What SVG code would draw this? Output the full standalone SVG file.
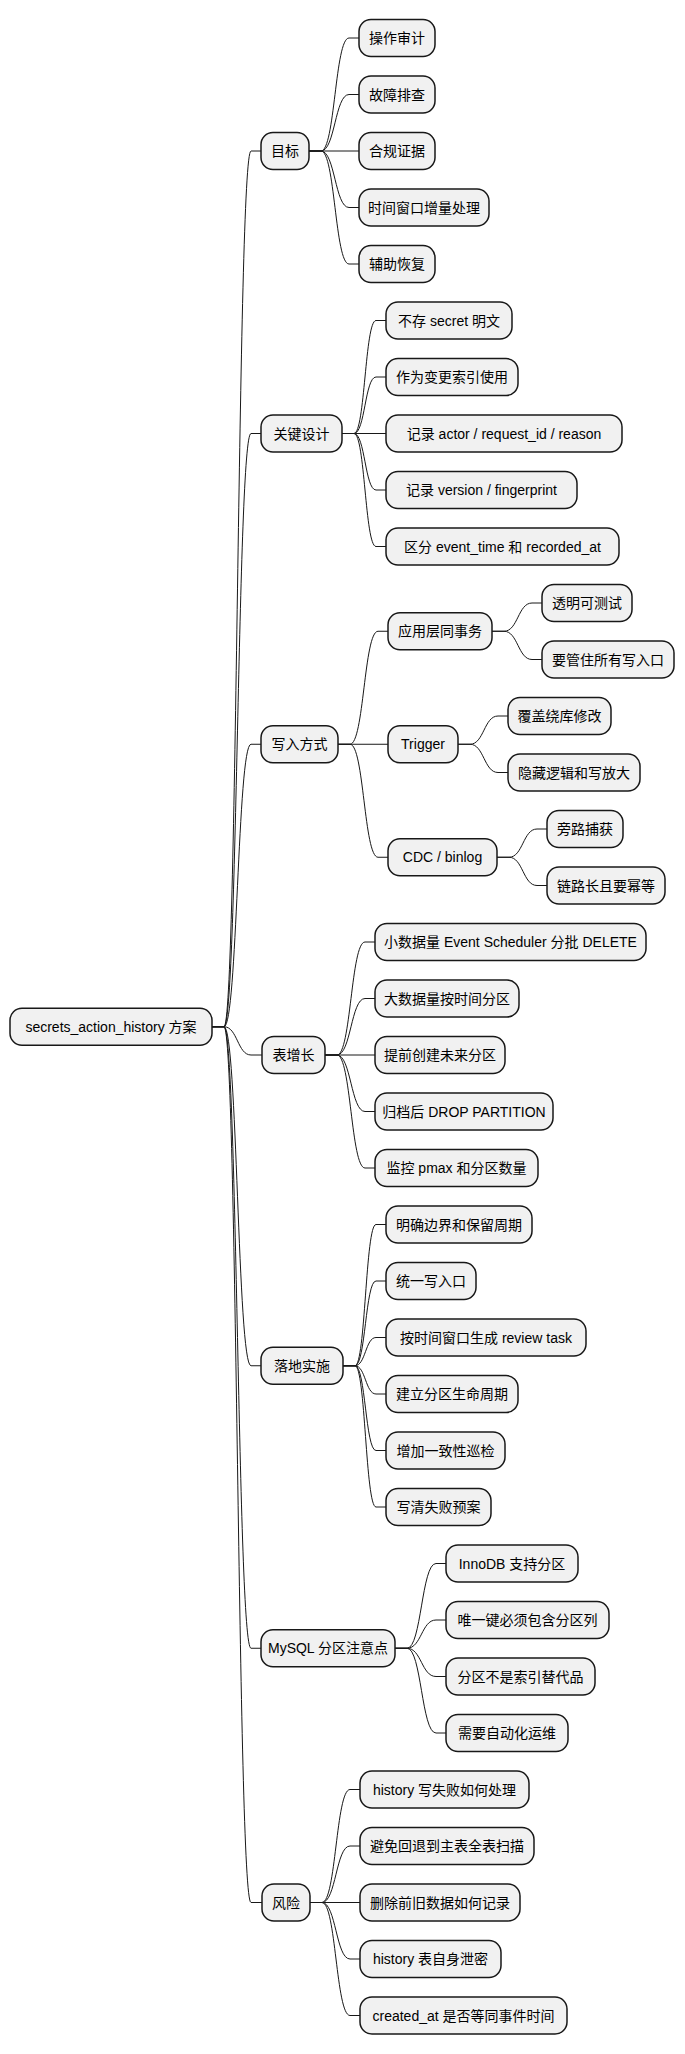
<svg xmlns="http://www.w3.org/2000/svg" width="685" height="2054" viewBox="0 0 685 2054">
<style>
rect{fill:#f1f1f1;stroke:#181818;stroke-width:1.5}
text{font-family:"Liberation Sans","Noto Sans CJK SC",sans-serif;font-size:14px;fill:#000;text-anchor:middle}
.c path{fill:none;stroke:#181818;stroke-width:1}
</style>
<rect x="0" y="0" width="685" height="2054" style="fill:#fff;stroke:none"/>
<g class="c" id="connectors">
<path d="M212,1026.75H224C237.5,1026.75 237.5,151 251,151H261"/>
<path d="M212,1026.75H224C237.5,1026.75 237.5,433.5 251,433.5H261"/>
<path d="M212,1026.75H224C237.5,1026.75 237.5,744.25 251,744.25H261"/>
<path d="M212,1026.75H224C237.5,1026.75 237.5,1055 251,1055H262"/>
<path d="M212,1026.75H224C237.5,1026.75 237.5,1365.75 251,1365.75H261"/>
<path d="M212,1026.75H224C237.5,1026.75 237.5,1648.25 251,1648.25H261"/>
<path d="M212,1026.75H224C237.5,1026.75 237.5,1902.5 251,1902.5H262"/>
<path d="M309,151H321C335,151 335,38 349,38H359"/>
<path d="M309,151H321C335,151 335,94.5 349,94.5H359"/>
<path d="M309,151H359"/>
<path d="M309,151H321C335,151 335,207.5 349,207.5H359"/>
<path d="M309,151H321C335,151 335,264 349,264H359"/>
<path d="M342,433.5H354C365,433.5 365,320.5 376,320.5H386"/>
<path d="M342,433.5H354C365,433.5 365,377 376,377H386"/>
<path d="M342,433.5H386"/>
<path d="M342,433.5H354C365,433.5 365,490 376,490H386"/>
<path d="M342,433.5H354C365,433.5 365,546.5 376,546.5H386"/>
<path d="M338,744.25H350C364,744.25 364,631.25 378,631.25H388"/>
<path d="M338,744.25H388"/>
<path d="M338,744.25H350C364,744.25 364,857.25 378,857.25H388"/>
<path d="M492,631.25H504C518,631.25 518,603 532,603H542"/>
<path d="M492,631.25H504C518,631.25 518,659.5 532,659.5H542"/>
<path d="M458,744.25H470C484,744.25 484,716 498,716H508"/>
<path d="M458,744.25H470C484,744.25 484,772.5 498,772.5H508"/>
<path d="M497,857.25H509C523,857.25 523,829 537,829H547"/>
<path d="M497,857.25H509C523,857.25 523,885.5 537,885.5H547"/>
<path d="M325,1055H337C351,1055 351,942 365,942H375"/>
<path d="M325,1055H337C351,1055 351,998.5 365,998.5H375"/>
<path d="M325,1055H375"/>
<path d="M325,1055H337C351,1055 351,1111.5 365,1111.5H375"/>
<path d="M325,1055H337C351,1055 351,1168 365,1168H375"/>
<path d="M343,1365.75H355C365.5,1365.75 365.5,1224.5 376,1224.5H386"/>
<path d="M343,1365.75H355C365.5,1365.75 365.5,1281 376,1281H386"/>
<path d="M343,1365.75H355C365.5,1365.75 365.5,1337.5 376,1337.5H386"/>
<path d="M343,1365.75H355C365.5,1365.75 365.5,1394 376,1394H386"/>
<path d="M343,1365.75H355C365.5,1365.75 365.5,1450.5 376,1450.5H386"/>
<path d="M343,1365.75H355C365.5,1365.75 365.5,1507 376,1507H386"/>
<path d="M395,1648.25H407C421.5,1648.25 421.5,1563.5 436,1563.5H446"/>
<path d="M395,1648.25H407C421.5,1648.25 421.5,1620 436,1620H446"/>
<path d="M395,1648.25H407C421.5,1648.25 421.5,1676.5 436,1676.5H446"/>
<path d="M395,1648.25H407C421.5,1648.25 421.5,1733 436,1733H446"/>
<path d="M310,1902.5H322C336,1902.5 336,1789.5 350,1789.5H360"/>
<path d="M310,1902.5H322C336,1902.5 336,1846 350,1846H360"/>
<path d="M310,1902.5H360"/>
<path d="M310,1902.5H322C336,1902.5 336,1959 350,1959H360"/>
<path d="M310,1902.5H322C336,1902.5 336,2015.5 350,2015.5H360"/>
</g>
<g id="root"><rect x="10" y="1008.25" width="202" height="37" rx="12"/><text x="111" y="1031.75">secrets_action_history 方案</text></g>
<g id="n1"><rect x="261" y="132.5" width="48" height="37" rx="12"/><text x="285" y="156">目标</text></g>
<g id="n1a"><rect x="359" y="19.5" width="76" height="37" rx="12"/><text x="397" y="43">操作审计</text></g>
<g id="n1b"><rect x="359" y="76" width="76" height="37" rx="12"/><text x="397" y="99.5">故障排查</text></g>
<g id="n1c"><rect x="359" y="132.5" width="76" height="37" rx="12"/><text x="397" y="156">合规证据</text></g>
<g id="n1d"><rect x="359" y="189" width="130" height="37" rx="12"/><text x="424" y="212.5">时间窗口增量处理</text></g>
<g id="n1e"><rect x="359" y="245.5" width="76" height="37" rx="12"/><text x="397" y="269">辅助恢复</text></g>
<g id="n2"><rect x="261" y="415" width="81" height="37" rx="12"/><text x="301.5" y="438.5">关键设计</text></g>
<g id="n2a"><rect x="386" y="302" width="126" height="37" rx="12"/><text x="449" y="325.5">不存 secret 明文</text></g>
<g id="n2b"><rect x="386" y="358.5" width="132" height="37" rx="12"/><text x="452" y="382">作为变更索引使用</text></g>
<g id="n2c"><rect x="386" y="415" width="236" height="37" rx="12"/><text x="504" y="438.5">记录 actor / request_id / reason</text></g>
<g id="n2d"><rect x="386" y="471.5" width="191" height="37" rx="12"/><text x="481.5" y="495">记录 version / fingerprint</text></g>
<g id="n2e"><rect x="386" y="528" width="233" height="37" rx="12"/><text x="502.5" y="551.5">区分 event_time 和 recorded_at</text></g>
<g id="n3"><rect x="261" y="725.75" width="77" height="37" rx="12"/><text x="299.5" y="749.25">写入方式</text></g>
<g id="n3a"><rect x="388" y="612.75" width="104" height="37" rx="12"/><text x="440" y="636.25">应用层同事务</text></g>
<g id="n3a1"><rect x="542" y="584.5" width="90" height="37" rx="12"/><text x="587" y="608">透明可测试</text></g>
<g id="n3a2"><rect x="542" y="641" width="132" height="37" rx="12"/><text x="608" y="664.5">要管住所有写入口</text></g>
<g id="n3b"><rect x="388" y="725.75" width="70" height="37" rx="12"/><text x="423" y="749.25">Trigger</text></g>
<g id="n3b1"><rect x="508" y="697.5" width="103" height="37" rx="12"/><text x="559.5" y="721">覆盖绕库修改</text></g>
<g id="n3b2"><rect x="508" y="754" width="132" height="37" rx="12"/><text x="574" y="777.5">隐藏逻辑和写放大</text></g>
<g id="n3c"><rect x="388" y="838.75" width="109" height="37" rx="12"/><text x="442.5" y="862.25">CDC / binlog</text></g>
<g id="n3c1"><rect x="547" y="810.5" width="76" height="37" rx="12"/><text x="585" y="834">旁路捕获</text></g>
<g id="n3c2"><rect x="547" y="867" width="118" height="37" rx="12"/><text x="606" y="890.5">链路长且要幂等</text></g>
<g id="n4"><rect x="262" y="1036.5" width="63" height="37" rx="12"/><text x="293.5" y="1060">表增长</text></g>
<g id="n4a"><rect x="375" y="923.5" width="271" height="37" rx="12"/><text x="510.5" y="947">小数据量 Event Scheduler 分批 DELETE</text></g>
<g id="n4b"><rect x="375" y="980" width="144" height="37" rx="12"/><text x="447" y="1003.5">大数据量按时间分区</text></g>
<g id="n4c"><rect x="375" y="1036.5" width="130" height="37" rx="12"/><text x="440" y="1060">提前创建未来分区</text></g>
<g id="n4d"><rect x="375" y="1093" width="178" height="37" rx="12"/><text x="464" y="1116.5">归档后 DROP PARTITION</text></g>
<g id="n4e"><rect x="375" y="1149.5" width="163" height="37" rx="12"/><text x="456.5" y="1173">监控 pmax 和分区数量</text></g>
<g id="n5"><rect x="261" y="1347.25" width="82" height="37" rx="12"/><text x="302" y="1370.75">落地实施</text></g>
<g id="n5a"><rect x="386" y="1206" width="146" height="37" rx="12"/><text x="459" y="1229.5">明确边界和保留周期</text></g>
<g id="n5b"><rect x="386" y="1262.5" width="90" height="37" rx="12"/><text x="431" y="1286">统一写入口</text></g>
<g id="n5c"><rect x="386" y="1319" width="200" height="37" rx="12"/><text x="486" y="1342.5">按时间窗口生成 review task</text></g>
<g id="n5d"><rect x="386" y="1375.5" width="132" height="37" rx="12"/><text x="452" y="1399">建立分区生命周期</text></g>
<g id="n5e"><rect x="386" y="1432" width="119" height="37" rx="12"/><text x="445.5" y="1455.5">增加一致性巡检</text></g>
<g id="n5f"><rect x="386" y="1488.5" width="105" height="37" rx="12"/><text x="438.5" y="1512">写清失败预案</text></g>
<g id="n6"><rect x="261" y="1629.75" width="134" height="37" rx="12"/><text x="328" y="1653.25">MySQL 分区注意点</text></g>
<g id="n6a"><rect x="446" y="1545" width="132" height="37" rx="12"/><text x="512" y="1568.5">InnoDB 支持分区</text></g>
<g id="n6b"><rect x="446" y="1601.5" width="163" height="37" rx="12"/><text x="527.5" y="1625">唯一键必须包含分区列</text></g>
<g id="n6c"><rect x="446" y="1658" width="149" height="37" rx="12"/><text x="520.5" y="1681.5">分区不是索引替代品</text></g>
<g id="n6d"><rect x="446" y="1714.5" width="122" height="37" rx="12"/><text x="507" y="1738">需要自动化运维</text></g>
<g id="n7"><rect x="262" y="1884" width="48" height="37" rx="12"/><text x="286" y="1907.5">风险</text></g>
<g id="n7a"><rect x="360" y="1771" width="169" height="37" rx="12"/><text x="444.5" y="1794.5">history 写失败如何处理</text></g>
<g id="n7b"><rect x="360" y="1827.5" width="174" height="37" rx="12"/><text x="447" y="1851">避免回退到主表全表扫描</text></g>
<g id="n7c"><rect x="360" y="1884" width="160" height="37" rx="12"/><text x="440" y="1907.5">删除前旧数据如何记录</text></g>
<g id="n7d"><rect x="360" y="1940.5" width="141" height="37" rx="12"/><text x="430.5" y="1964">history 表自身泄密</text></g>
<g id="n7e"><rect x="360" y="1997" width="207" height="37" rx="12"/><text x="463.5" y="2020.5">created_at 是否等同事件时间</text></g>
</svg>
